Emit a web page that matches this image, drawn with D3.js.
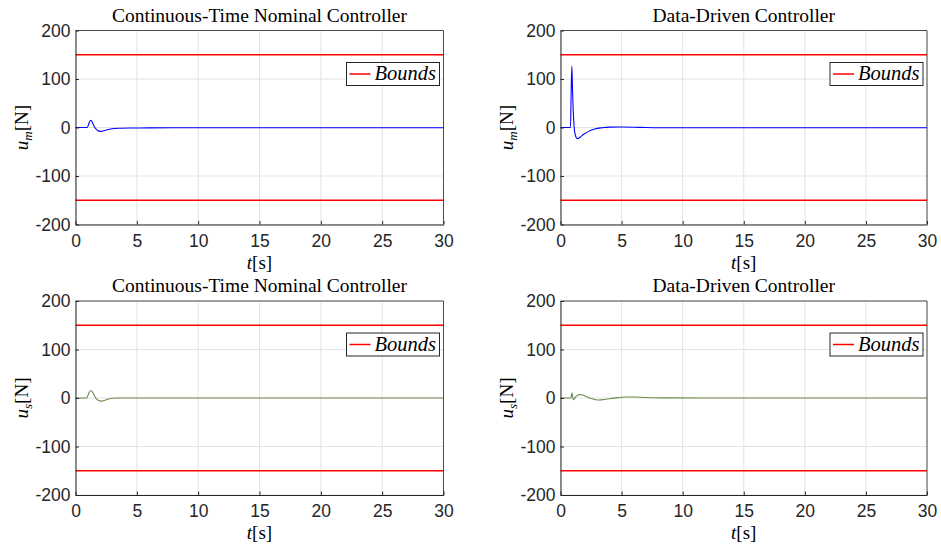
<!DOCTYPE html>
<html><head><meta charset="utf-8">
<script src="https://cdn.jsdelivr.net/npm/d3@7"></script>
<style>body{margin:0;background:#fff}</style>
</head><body>
<svg id="c" width="941" height="545"></svg>
<script>
// ---- data ----
const xTicks = [0, 5, 10, 15, 20, 25, 30];
const yTicks = [-200, -100, 0, 100, 200];
const bounds = [150, -150];
const titles = ["Continuous-Time Nominal Controller", "Data-Driven Controller", "Continuous-Time Nominal Controller", "Data-Driven Controller"];
const yLabelSub = ["m", "m", "s", "s"];
// hand-read samples (t, value)
const umNominalT = [0, 0.95, 1.05, 1.15, 1.25, 1.35, 1.5, 1.7, 1.9, 2.1, 2.4, 2.7, 3.0, 3.5, 4.5, 6, 10, 20, 30];
const umNominalV = [0, 0, 5, 12, 15, 12, 3, -4, -7.5, -8, -6, -4, -2.5, -1.5, -1, -0.8, -0.6, -0.5, -0.5];
const umDataT = [0, 0.82, 0.87, 0.93, 0.98, 1.05, 1.12, 1.2, 1.3, 1.4, 1.6, 1.9, 2.3, 2.8, 3.4, 4.0, 5.0, 6.5, 8, 12, 20, 30];
const umDataV = [0, 0, 70, 126, 80, 30, 0, -14, -21, -23, -20, -14, -8, -3, -0.5, 0.8, 1, 0.3, -0.5, -0.5, -0.5, -0.5];
const usNominalT = [0, 0.9, 1.0, 1.1, 1.25, 1.4, 1.55, 1.75, 1.95, 2.15, 2.4, 2.7, 3.0, 3.5, 5, 10, 20, 30];
const usNominalV = [0, 0, 4, 11, 15.5, 12, 4, -3, -6, -6.5, -4.5, -2, -0.5, 0, 0, 0, 0, 0];
const usDataT = [0, 0.85, 0.93, 1.0, 1.05, 1.15, 1.3, 1.55, 1.8, 2.1, 2.5, 2.9, 3.2, 3.6, 4.1, 4.7, 5.3, 6, 7, 8.5, 12, 20, 30];
const usDataV = [0, 0, 10, 2, -3.5, -1, 4, 7, 6, 3, -1, -3.5, -4, -3, -1, 0.8, 2, 2, 1, 0.2, 0, 0, 0];

const series = [
  {t: umNominalT, v: umNominalV, color: "#0000ff"},
  {t: umDataT, v: umDataV, color: "#0000ff"},
  {t: usNominalT, v: usNominalV, color: "#6e8a4c"},
  {t: usDataT, v: usDataV, color: "#6e8a4c"}
];

const panels = [
  {x0: 75.5, x1: 443.5, y0: 30.5, y1: 224.5},
  {x0: 560.5, x1: 927, y0: 30.5, y1: 224.5},
  {x0: 75.5, x1: 443.5, y0: 301, y1: 495},
  {x0: 560.5, x1: 927, y0: 301, y1: 495}
];

const svg = d3.select("#c");
const tickFont = "'Liberation Sans', Arial, Helvetica, sans-serif";
const serif = "'Liberation Serif', 'Times New Roman', serif";
const fmt = d => String(d);

panels.forEach((p, i) => {
  const x = d3.scaleLinear().domain([0, 30]).range([p.x0, p.x1]);
  const y = d3.scaleLinear().domain([-200, 200]).range([p.y1, p.y0]);
  const g = svg.append("g");

  // grid
  g.selectAll(".gx").data(xTicks).join("line")
    .attr("x1", d => x(d)).attr("x2", d => x(d)).attr("y1", p.y0).attr("y2", p.y1)
    .attr("stroke", "#e3e3e3").attr("stroke-width", 1);
  g.selectAll(".gy").data(yTicks).join("line")
    .attr("y1", d => y(d)).attr("y2", d => y(d)).attr("x1", p.x0).attr("x2", p.x1)
    .attr("stroke", "#e3e3e3").attr("stroke-width", 1);

  // bounds
  g.selectAll(".b").data(bounds).join("line")
    .attr("x1", x(0)).attr("x2", x(30)).attr("y1", d => y(d)).attr("y2", d => y(d))
    .attr("stroke", "#ff0000").attr("stroke-width", 1.5);

  // signal
  const s = series[i];
  const pts = s.t.map((t, k) => [t, s.v[k]]);
  g.append("path").datum(pts)
    .attr("d", d3.line().x(d => x(d[0])).y(d => y(d[1])).curve(d3.curveMonotoneX))
    .attr("fill", "none").attr("stroke", s.color).attr("stroke-width", 1.1);

  // box top/right
  g.append("line").attr("x1", p.x0).attr("x2", p.x1).attr("y1", p.y0).attr("y2", p.y0).attr("stroke", "#262626").attr("stroke-width", 0.8);
  g.append("line").attr("x1", p.x1).attr("x2", p.x1).attr("y1", p.y0).attr("y2", p.y1).attr("stroke", "#262626").attr("stroke-width", 0.8);

  // axes
  const ax = d3.axisBottom(x).tickValues(xTicks).tickFormat(fmt).tickSizeInner(-3.5).tickSizeOuter(0).tickPadding(10);
  const ay = d3.axisLeft(y).tickValues(yTicks).tickFormat(fmt).tickSizeInner(-3.5).tickSizeOuter(0).tickPadding(5);
  const gx = g.append("g").attr("transform", `translate(0,${p.y1})`).call(ax);
  const gy = g.append("g").attr("transform", `translate(${p.x0},0)`).call(ay);
  [gx, gy].forEach(a => {
    a.select(".domain").attr("stroke", "#262626").attr("stroke-width", 1);
    a.selectAll(".tick line").attr("stroke", "#262626");
    a.selectAll("text").attr("font-family", tickFont).attr("font-size", 17.5).attr("fill", "#262626");
  });

  // title
  g.append("text").attr("x", (p.x0 + p.x1) / 2).attr("y", p.y0 - 9)
    .attr("text-anchor", "middle").attr("font-family", serif).attr("font-size", 19.5)
    .attr("fill", "#000").text(titles[i]);

  // x label
  const xl = g.append("text").attr("x", (p.x0 + p.x1) / 2).attr("y", p.y1 + 44)
    .attr("text-anchor", "middle").attr("font-family", serif).attr("font-size", 19).attr("fill", "#000");
  xl.append("tspan").attr("font-style", "italic").text("t");
  xl.append("tspan").text("[s]");

  // y label
  const cy = (p.y0 + p.y1) / 2;
  const yl = g.append("text").attr("transform", `translate(${p.x0 - 48},${cy}) rotate(-90)`)
    .attr("text-anchor", "middle").attr("font-family", serif).attr("font-size", 19).attr("fill", "#000");
  yl.append("tspan").attr("font-style", "italic").text("u");
  yl.append("tspan").attr("font-style", "italic").attr("font-size", 13).attr("dy", 4).text(yLabelSub[i]);
  yl.append("tspan").attr("dy", -4).text("[N]");

  // legend
  const lw = 93, lh = 23;
  const lx = p.x1 - 4 - lw, ly = p.y0 + 32;
  g.append("rect").attr("x", lx).attr("y", ly).attr("width", lw).attr("height", lh)
    .attr("fill", "#fff").attr("stroke", "#262626").attr("stroke-width", 1);
  g.append("line").attr("x1", lx + 3).attr("x2", lx + 24).attr("y1", ly + lh / 2).attr("y2", ly + lh / 2)
    .attr("stroke", "#ff0000").attr("stroke-width", 1.5);
  g.append("text").attr("x", lx + 28).attr("y", ly + lh / 2 + 6)
    .attr("font-family", serif).attr("font-style", "italic").attr("font-size", 20.5).attr("fill", "#000")
    .text("Bounds");
});
</script>
</body></html>
